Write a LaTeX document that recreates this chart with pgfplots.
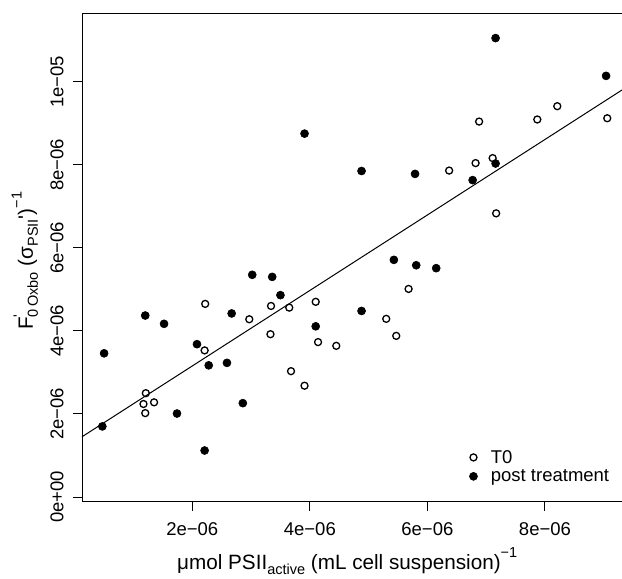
\documentclass[border=0pt]{standalone}
\usepackage{fontspec}
\setmainfont{Liberation Sans}
\usepackage{pgfplots}
\pgfplotsset{compat=1.18}
\newcommand{\tfs}{\fontsize{18.5}{22}\selectfont}
\newcommand{\lfs}{\fontsize{20.7}{24}\selectfont}
\newcommand{\sfs}{\fontsize{14.5}{16}\selectfont}
\begin{document}
\begin{tikzpicture}
\begin{axis}[name=ax, scale only axis, width=540pt, height=487.7pt,
  xmin=0.124, xmax=9.311, ymin=-0.113, ymax=11.63,
  clip=false,
  axis line style={draw=none},
  xtick={2,4,6,8}, xticklabels={2e−06,4e−06,6e−06,8e−06},
  ytick={0,2,4,6,8,10}, yticklabels={0e+00,2e−06,4e−06,6e−06,8e−06,1e−05},
  tick align=outside, major tick length=9pt, xtick pos=bottom, ytick pos=left,
  tick style={black, line width=1pt},
  tick label style={font=\tfs},
  xticklabel style={anchor=base, inner sep=0pt},
  xticklabel shift=24.3pt,
  yticklabel style={rotate=90, anchor=base, inner sep=0pt},
  yticklabel shift=9.5pt,
  legend style={draw=none, fill=none, at={(rel axis cs:0.7172,0.106)}, anchor=north west,
    font=\tfs, row sep=5pt, column sep=13.4pt, inner sep=0pt, nodes={inner sep=0pt}},
  legend cell align=left,
  legend image code/.code={\draw[#1] plot coordinates {(0pt,0pt)};},
]
\draw[black, line width=1pt] (rel axis cs:1,1) -- (rel axis cs:0,1) -- (rel axis cs:0,0) -- (rel axis cs:1,0);
\addplot[only marks, mark=o, mark size=3.5pt, mark options={line width=1.3pt, black}] coordinates {
(1.21,2.50) (1.17,2.24) (1.20,2.02) (1.35,2.28) (2.22,4.65) (2.21,3.53)
(2.97,4.28) (3.34,4.60) (3.65,4.56) (3.33,3.92) (4.10,4.70) (4.14,3.73)
(4.45,3.64) (3.68,3.03) (3.91,2.68) (5.30,4.29) (5.47,3.88) (5.68,5.01)
(6.37,7.86) (6.82,8.04) (7.11,8.16) (6.88,9.04) (7.87,9.09) (8.21,9.41)
(9.06,9.12) (7.17,6.83)
};
\addlegendentry{T0}
\addplot[only marks, mark=*, mark size=4pt, mark options={line width=0.6pt, black, fill=black}] coordinates {
(0.47,1.70) (0.50,3.46) (1.20,4.37) (1.52,4.17) (1.74,2.01) (2.08,3.68)
(2.21,1.12) (2.28,3.17) (2.59,3.23) (2.67,4.42) (2.86,2.26) (3.02,5.35)
(3.36,5.30) (3.50,4.86) (3.91,8.75) (4.10,4.11) (4.88,4.48) (4.88,7.85)
(5.43,5.71) (5.81,5.58) (6.15,5.51) (5.79,7.78) (6.77,7.63) (7.16,8.03)
(7.16,11.05) (9.04,10.14)
};
\addlegendentry{post treatment}
\addplot[no marks, black, line width=1pt, forget plot] coordinates {(0.124,1.45) (9.311,9.80)};
\end{axis}
\node[anchor=base, font=\lfs] at ([xshift=-4.8pt, yshift=-67.5pt]ax.south)
  {μmol PSII\raisebox{-0.24em}{\sfs active} (mL cell suspension)\raisebox{0.55em}{\sfs −1}};
\node[anchor=base, rotate=90, font=\lfs] at ([xshift=-49pt, yshift=-3pt]ax.west)
  {F\rlap{\raisebox{0.45em}{\sfs\textquotesingle}}\raisebox{-0.24em}{\sfs 0\,Oxbo} (σ\raisebox{-0.24em}{\sfs PSII}\textquotesingle)\raisebox{0.55em}{\sfs −1}};
\pgfresetboundingbox
\path ([xshift=-82pt, yshift=-76.3pt]ax.south west) rectangle ([yshift=14pt]ax.north east);
\end{tikzpicture}
\end{document}
